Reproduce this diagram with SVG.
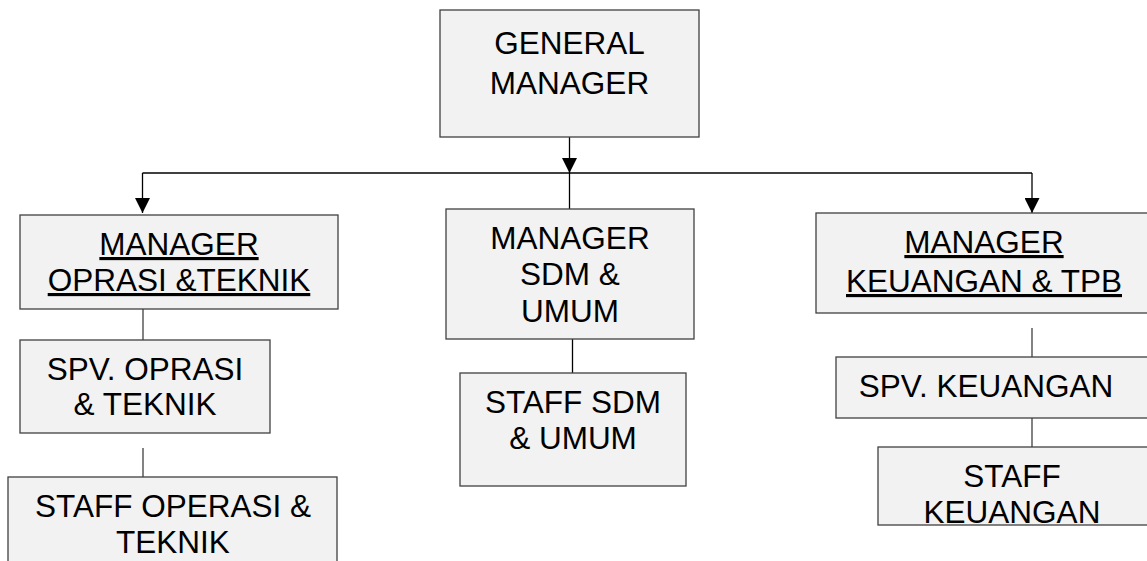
<svg xmlns="http://www.w3.org/2000/svg" width="1147" height="561" viewBox="0 0 1147 561">
<style>
.box{fill:#f2f2f2;stroke:#404040;stroke-width:1.3}
.t{font-family:"Liberation Sans",Arial,sans-serif;font-size:31.5px;fill:#000;text-anchor:middle}
.u{text-decoration:underline}
.c{fill:none;stroke:#000;stroke-width:1.3}
.g{fill:none;stroke:#404040;stroke-width:1.3}
</style>
<defs>
<marker id="arr" markerWidth="15" markerHeight="15" refX="15" refY="7.5" orient="auto" markerUnits="userSpaceOnUse" viewBox="0 0 15 15">
<path d="M0,0 L15,7.5 L0,15 Z" fill="#000"/>
</marker>
</defs>
<rect width="1147" height="561" fill="#fff"/>
<g id="connectors">
<line class="c" x1="569.5" y1="137" x2="569.5" y2="173" marker-end="url(#arr)"/>
<line class="c" x1="142.5" y1="173" x2="1032" y2="173"/>
<line class="c" x1="142.5" y1="173" x2="142.5" y2="213" marker-end="url(#arr)"/>
<line class="c" x1="1032" y1="173" x2="1032" y2="213" marker-end="url(#arr)"/>
<line class="c" x1="569.5" y1="173" x2="569.5" y2="209"/>
<line class="g" x1="143" y1="309" x2="143" y2="340"/>
<line class="g" x1="143" y1="448" x2="143" y2="477"/>
<line class="c" x1="572.5" y1="339" x2="572.5" y2="373"/>
<line class="g" x1="1032" y1="328" x2="1032" y2="357"/>
<line class="g" x1="1032" y1="418" x2="1032" y2="447"/>
</g>
<g id="general-manager">
<rect class="box" x="440" y="10" width="259" height="127"/>
<text class="t" x="569.5" y="54">GENERAL</text>
<text class="t" x="569.5" y="94">MANAGER</text>
</g>
<g id="manager-oprasi">
<rect class="box" x="20" y="215" width="318" height="94"/>
<text class="t u" x="179" y="255">MANAGER</text>
<text class="t u" x="179" y="291">OPRASI &amp;TEKNIK</text>
</g>
<g id="spv-oprasi">
<rect class="box" x="20" y="340" width="250" height="93"/>
<text class="t" x="145" y="380">SPV. OPRASI</text>
<text class="t" x="145" y="415">&amp; TEKNIK</text>
</g>
<g id="staff-operasi">
<rect class="box" x="8" y="477" width="329" height="100"/>
<text class="t" x="173" y="517">STAFF OPERASI &amp;</text>
<text class="t" x="173" y="553">TEKNIK</text>
</g>
<g id="manager-sdm">
<rect class="box" x="446" y="209" width="248" height="130"/>
<text class="t" x="570" y="249">MANAGER</text>
<text class="t" x="570" y="285">SDM &amp;</text>
<text class="t" x="570" y="322">UMUM</text>
</g>
<g id="staff-sdm">
<rect class="box" x="460" y="373" width="226" height="113"/>
<text class="t" x="573" y="413">STAFF SDM</text>
<text class="t" x="573" y="449">&amp; UMUM</text>
</g>
<g id="manager-keuangan">
<rect class="box" x="816" y="213" width="340" height="100"/>
<text class="t u" x="984" y="253">MANAGER</text>
<text class="t u" x="984" y="292">KEUANGAN &amp; TPB</text>
</g>
<g id="spv-keuangan">
<rect class="box" x="836" y="357" width="320" height="61"/>
<text class="t" x="986" y="397">SPV. KEUANGAN</text>
</g>
<g id="staff-keuangan">
<rect class="box" x="878" y="447" width="280" height="78"/>
<text class="t" x="1012" y="487">STAFF</text>
<text class="t" x="1012" y="523">KEUANGAN</text>
</g>
</svg>
